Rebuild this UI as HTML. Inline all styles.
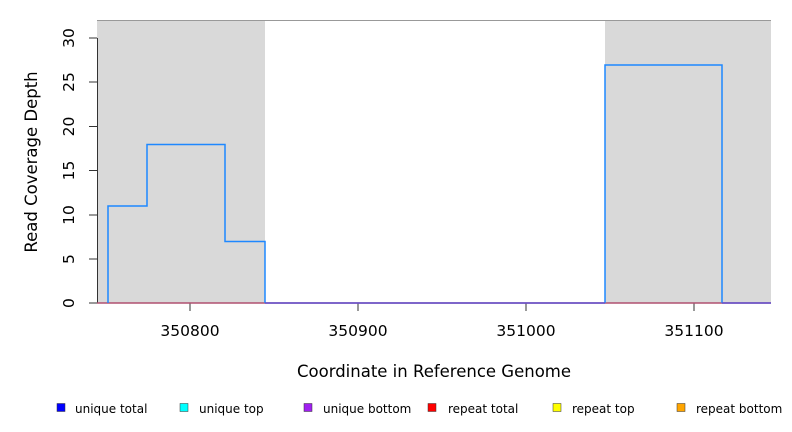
<!DOCTYPE html>
<html><head><meta charset="utf-8"><style>
body{margin:0;background:#fff}
svg{display:block;font-family:"DejaVu Sans","Liberation Sans",sans-serif}
</style></head><body>
<svg width="792" height="432" viewBox="0 0 792 432">
<rect x="97" y="20" width="168" height="283" fill="#d9d9d9"/>
<rect x="605" y="20" width="166" height="283" fill="#d9d9d9"/>
<line x1="97" y1="20.5" x2="771" y2="20.5" stroke="#999" stroke-width="1"/>
<line x1="97.5" y1="38" x2="97.5" y2="303" stroke="#333"/>
<g stroke="#333">
<line x1="89" y1="303" x2="97" y2="303"/><line x1="89" y1="259" x2="97" y2="259"/>
<line x1="89" y1="215" x2="97" y2="215"/><line x1="89" y1="170.5" x2="97" y2="170.5"/>
<line x1="89" y1="126.5" x2="97" y2="126.5"/><line x1="89" y1="82" x2="97" y2="82"/>
<line x1="89" y1="38" x2="97" y2="38"/>
<line x1="190" y1="303" x2="190" y2="311"/><line x1="358" y1="303" x2="358" y2="311"/>
<line x1="526" y1="303" x2="526" y2="311"/><line x1="694" y1="303" x2="694" y2="311"/>
</g>
<g font-size="15.5" fill="#000" text-anchor="middle">
<text transform="translate(69,303) rotate(-90)" dy="5">0</text>
<text transform="translate(69,259) rotate(-90)" dy="5">5</text>
<text transform="translate(69,215) rotate(-90)" dy="5">10</text>
<text transform="translate(69,170.5) rotate(-90)" dy="5">15</text>
<text transform="translate(69,126.5) rotate(-90)" dy="5">20</text>
<text transform="translate(69,82) rotate(-90)" dy="5">25</text>
<text transform="translate(69,38) rotate(-90)" dy="5">30</text>
<text x="190" y="336">350800</text><text x="358" y="336">350900</text>
<text x="526" y="336">351000</text><text x="694" y="336">351100</text>
</g>
<g font-size="16.5" fill="#000" text-anchor="middle">
<text x="434" y="377">Coordinate in Reference Genome</text>
<text transform="translate(37,162) rotate(-90)">Read Coverage Depth</text>
</g>
<line x1="97" y1="303" x2="771" y2="303" stroke="#b05070" stroke-width="1.5"/>
<polyline fill="none" stroke="#1e88ff" stroke-width="1.5" points="108,303 108,206 147,206 147,144.5 225,144.5 225,241.5 265,241.5 265,303"/>
<polyline fill="none" stroke="#1e88ff" stroke-width="1.5" points="605,303 605,65 722,65 722,303"/>
<line x1="265" y1="303" x2="605" y2="303" stroke="#6050d0" stroke-width="1.5"/>
<line x1="722" y1="303" x2="771" y2="303" stroke="#6050d0" stroke-width="1.5"/>
<g stroke="#333" stroke-width="0.5">
<rect x="57" y="403.5" width="8" height="8" fill="#0000ff"/>
<rect x="180" y="403.5" width="8" height="8" fill="#00ffff"/>
<rect x="304" y="403.5" width="8" height="8" fill="#a020f0"/>
<rect x="428" y="403.5" width="8" height="8" fill="#ff0000"/>
<rect x="553" y="403.5" width="8" height="8" fill="#ffff00"/>
<rect x="677" y="403.5" width="8" height="8" fill="#ffa500"/>
</g>
<g font-size="12" fill="#000">
<text x="75" y="413">unique total</text>
<text x="199" y="413">unique top</text>
<text x="323" y="413">unique bottom</text>
<text x="448" y="413">repeat total</text>
<text x="572" y="413">repeat top</text>
<text x="696" y="413">repeat bottom</text>
</g>
</svg>
</body></html>
